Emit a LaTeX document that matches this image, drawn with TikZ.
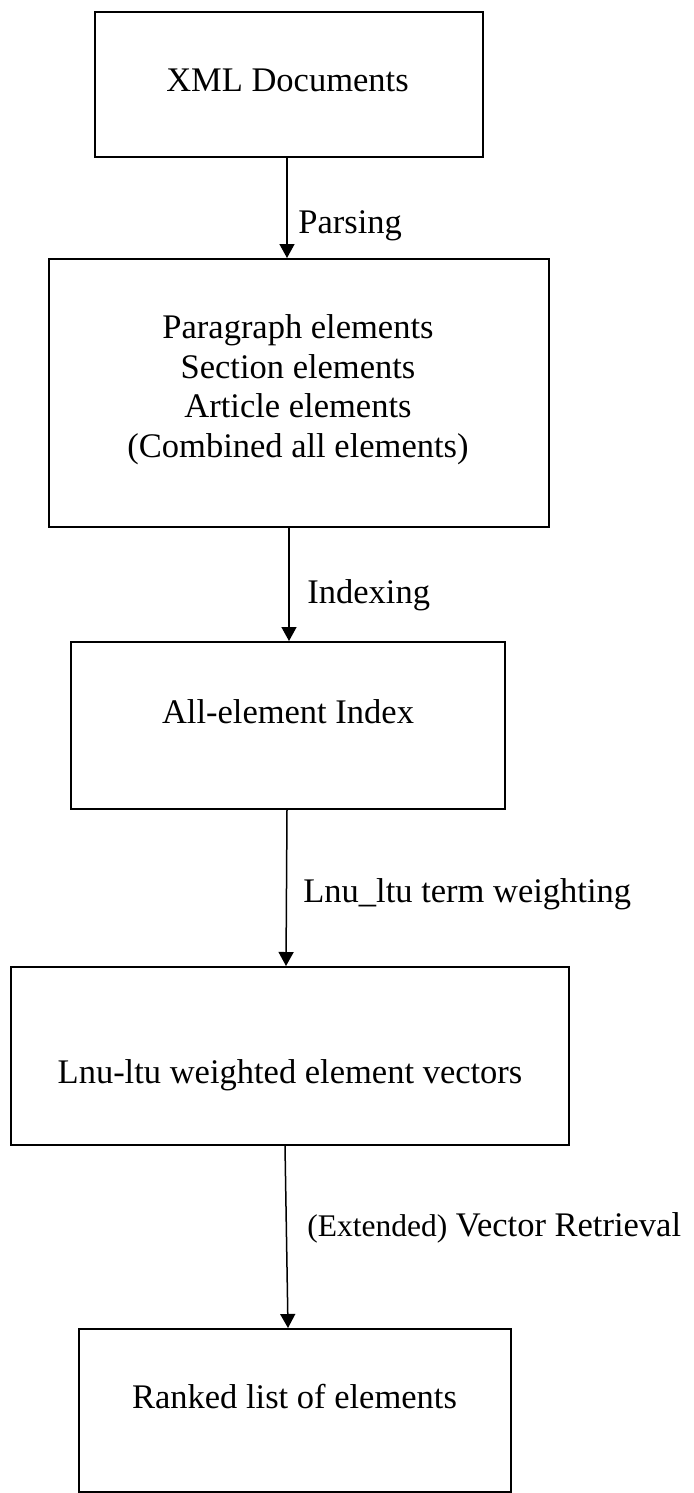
\documentclass[tikz,border=0pt]{standalone}
\usepackage{fontspec}
\setmainfont{Liberation Serif}
\usetikzlibrary{arrows.meta}
\begin{document}
\begin{tikzpicture}[x=0.5pt,y=-0.5pt,
  box/.style={draw, line width=1pt, rectangle, inner sep=0pt},
  flow/.style={-{Triangle[length=7pt,width=7.5pt]}, line width=0.75pt},
  txt/.style={font=\fontsize{17.25}{19.75}\selectfont, inner sep=0pt},
  lbl/.style={txt, anchor=base west}]
\clip (0,0) rectangle (694,1493);
\useasboundingbox (0,0) rectangle (694,1493);

% process stages
\node[box, minimum width=194pt, minimum height=72.5pt] (b1) at (289,84.5) {};
\node[box, minimum width=250pt, minimum height=134pt] (b2) at (298.5,393) {};
\node[box, minimum width=217pt, minimum height=83.5pt] (b3) at (288,725.5) {};
\node[box, minimum width=279pt, minimum height=89pt] (b4) at (290,1056) {};
\node[box, minimum width=216pt, minimum height=81.5pt] (b5) at (295,1410.5) {};

% stage texts
\node[txt, anchor=base] (t1) at (287.5,92) {XML Documents};
\node[txt, align=center, anchor=north] (t2) at (298,314.4)
  {Paragraph elements\\Section elements\\Article elements\\(Combined all elements)};
\node[txt, anchor=base] (t3) at (288,723) {All-element Index};
\node[txt, anchor=base] (t4) at (290,1083) {Lnu-ltu weighted element vectors};
\node[txt, anchor=base] (t5) at (294.5,1408) {Ranked list of elements};

% connectors
\draw[flow] ([xshift=-1pt]b1.south) -- ([xshift=-5.75pt]b2.north);
\draw[flow] ([xshift=-4.75pt]b2.south) -- ([xshift=0.5pt]b3.north);
\draw[flow] ([xshift=-0.5pt]b3.south) -- ([xshift=-2pt]b4.north);
\draw[flow] ([xshift=-2.5pt]b4.south) -- ([xshift=-3.5pt]b5.north);

% connector labels
\node[lbl] (l1) at (298,233) {Parsing};
\node[lbl] (l2) at (307,603) {Indexing};
\node[lbl] (l3) at (303,902) {Lnu\_ltu term weighting};
\node[lbl] (l4) at (307,1236) {{\fontsize{15.75}{18}\selectfont (Extended)} Vector Retrieval};
\end{tikzpicture}
\end{document}
